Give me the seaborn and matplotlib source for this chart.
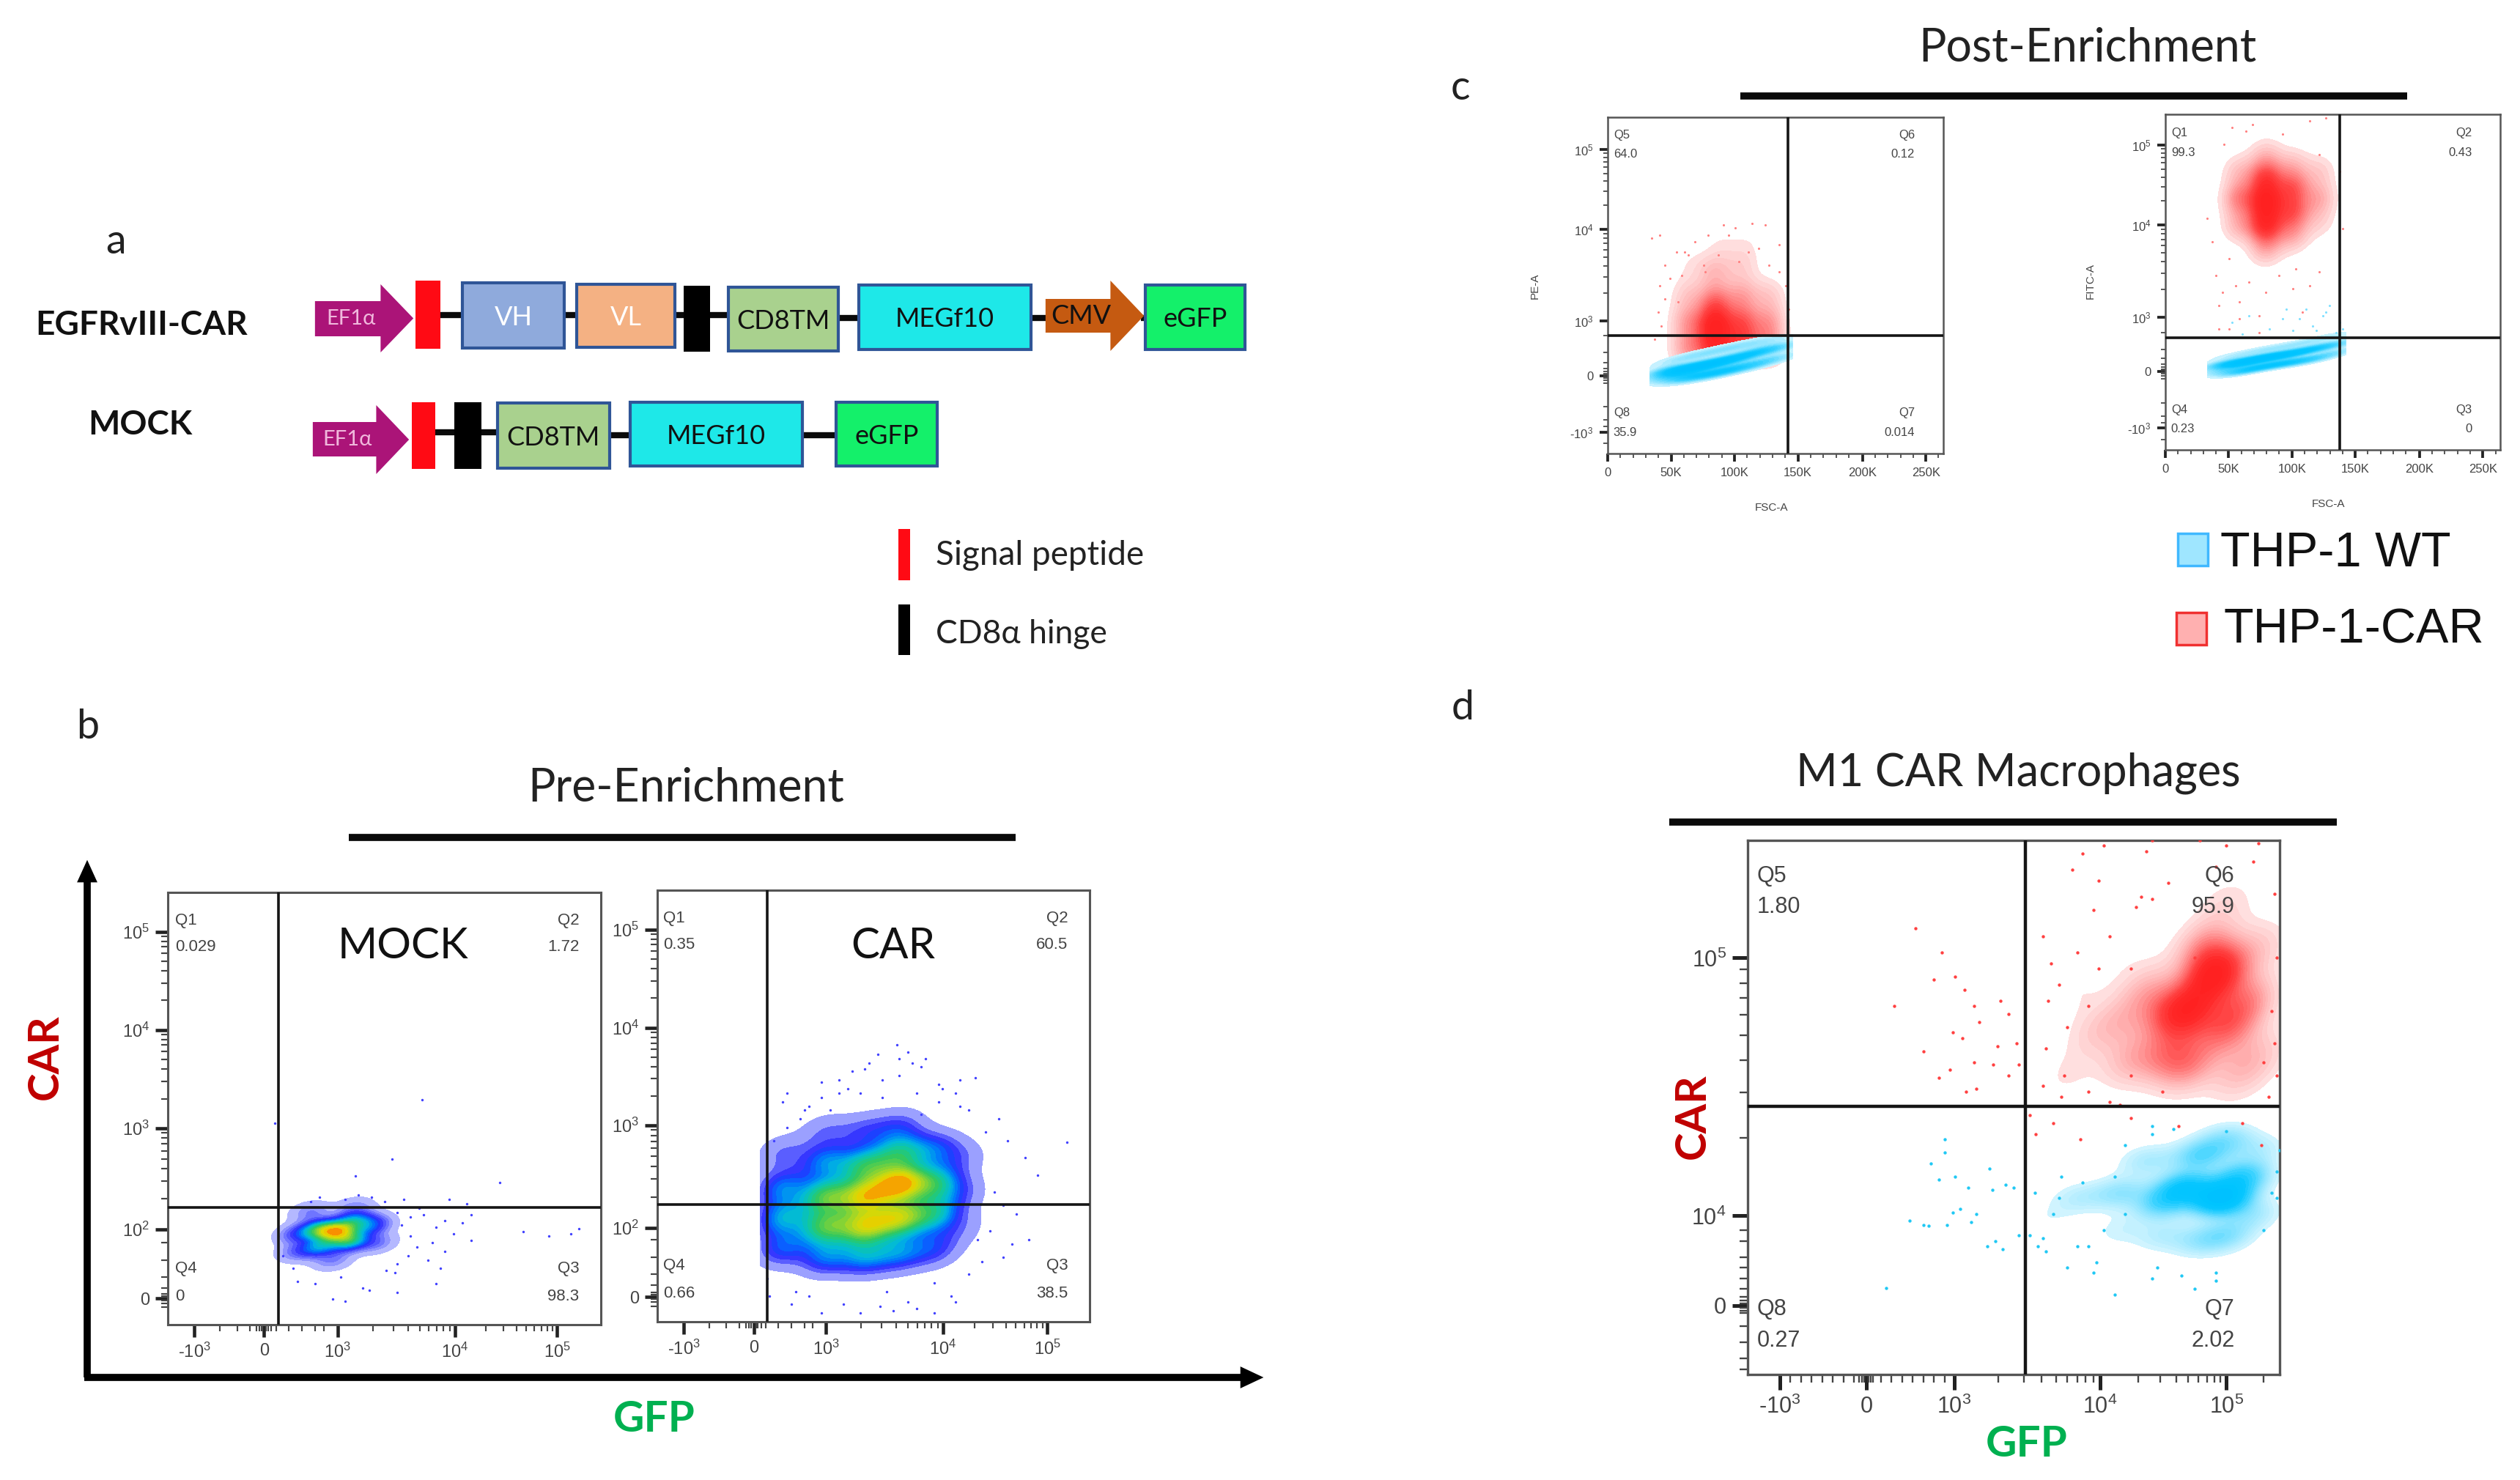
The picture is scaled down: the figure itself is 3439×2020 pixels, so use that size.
import numpy as np
import matplotlib
matplotlib.use("Agg")
import matplotlib.pyplot as plt
from matplotlib.colors import LinearSegmentedColormap
from matplotlib.patches import Rectangle, Polygon
import seaborn as sns

# ---------- data (flow channels, 0-1000 on each axis) ----------
b1_x = [300, 350, 390, 350, 420, 430, 470, 300, 480, 380, 330, 430]
b1_y = [210, 220, 215, 180, 195, 240, 230, 170, 190, 150, 260, 270]
b1_w = [1, 3, 5, 2, 3, 2, 1.5, .7, .7, .6, .6, .5]
b1_sx = [587, 247, 517, 433, 767, 540, 560, 575, 590, 610, 620, 640, 660, 680, 700, 820, 880, 930, 950, 545, 600, 630, 690, 555, 525, 300, 340, 380, 410, 450, 400, 465, 530, 620, 650, 290, 265, 700, 640, 580, 530, 500, 470, 440, 410, 350, 330, 560, 530, 505]
b1_sy = [521, 466, 383, 344, 329, 230, 205, 180, 255, 190, 225, 170, 210, 235, 195, 215, 205, 210, 222, 290, 150, 130, 280, 160, 120, 100, 95, 60, 55, 85, 110, 80, 75, 95, 290, 130, 160, 255, 240, 270, 260, 285, 295, 300, 290, 295, 285, 250, 140, 125]

b2_x = [290, 290, 290, 290, 390, 390, 390, 390, 390, 480, 480, 480, 480, 480, 560, 560, 560, 560, 560, 640, 640, 640, 640, 700, 700, 700]
b2_y = [170, 240, 310, 390, 150, 220, 290, 370, 440, 150, 220, 290, 360, 440, 160, 240, 320, 390, 450, 170, 250, 320, 400, 220, 300, 380]
b2_w = [2.2, 3, 2.6, 1.2, 2.4, 4.5, 4.6, 2.6, 1.1, 2.6, 5.5, 5.8, 3.8, 1.4, 2.4, 5.4, 7, 3.4, 1.6, 1.8, 3.2, 3.6, 2, .8, 1.1, 1]
b2_sx = [555, 580, 490, 620, 480, 520, 700, 735, 660, 610, 380, 420, 350, 300, 450, 520, 560, 600, 650, 690, 720, 760, 790, 810, 850, 880, 948, 780, 800, 830, 770, 740, 820, 860, 330, 270, 290, 400, 440, 510, 590, 650, 700, 610, 560, 470, 420, 380, 340, 300, 260, 255, 310, 545, 640, 680, 720, 750, 800, 350, 430, 515, 580, 470, 530, 600, 380, 320, 690, 640]
b2_sy = [641, 625, 600, 610, 585, 560, 560, 565, 540, 590, 555, 530, 500, 530, 580, 520, 570, 530, 510, 530, 490, 440, 470, 420, 380, 340, 416, 300, 270, 250, 210, 190, 180, 190, 470, 420, 510, 490, 540, 620, 600, 550, 500, 480, 610, 530, 560, 520, 490, 450, 60, 100, 40, 25, 90, 60, 110, 140, 150, 60, 40, 35, 45, 20, 70, 30, 20, 70, 45, 20]

c1_red_x = [240, 240, 240, 320, 320, 320, 320, 400, 400, 400, 400, 480, 480, 480, 250, 340, 420]
c1_red_y = [310, 390, 470, 310, 380, 450, 540, 320, 390, 470, 560, 320, 390, 470, 560, 620, 630]
c1_red_w = [2.4, 2.2, 1.2, 5, 6, 3.2, 1.6, 4, 3.4, 2, 1, 2.4, 2.2, 1.2, .5, .5, .4]
c1_blue_x = [170, 230, 300, 370, 440, 510, 170, 230, 300, 370, 440, 510, 170, 230, 300, 370, 440, 510]
c1_blue_y = [225, 225, 235, 250, 265, 285, 245, 250, 265, 280, 300, 315, 270, 285, 300, 315, 330, 340]
c1_blue_w = [2.4, 4, 4, 4, 3, 2.4, 3.5, 6, 6, 5, 4, 3, 1, 1.6, 1.8, 1.8, 1.6, 1.4]
c1_sx = [130, 155, 170, 205, 240, 260, 300, 345, 380, 430, 470, 155, 185, 220, 285, 330, 420, 510, 530, 540, 150, 170, 480, 390, 290, 210, 160, 140, 230, 510, 450, 360]
c1_sy = [640, 650, 560, 600, 590, 630, 650, 680, 670, 685, 680, 500, 520, 530, 560, 590, 600, 620, 500, 430, 420, 460, 560, 570, 540, 450, 380, 340, 600, 540, 610, 650]

c2_red_x = [220, 220, 220, 300, 300, 300, 300, 300, 380, 380, 380, 380, 460, 460, 460]
c2_red_y = [670, 750, 830, 600, 670, 740, 810, 880, 640, 710, 780, 850, 680, 750, 830]
c2_red_w = [2.2, 3.6, 1.8, 2.4, 6.5, 7.5, 5.5, 1.8, 2.4, 4.5, 4.4, 1.8, 1.2, 2.4, 1.5]
c2_blue_x = [170, 230, 300, 370, 440, 510, 170, 230, 300, 370, 440, 510, 170, 230, 300, 370, 440, 510]
c2_blue_y = [235, 235, 250, 260, 270, 290, 255, 260, 275, 285, 300, 315, 275, 285, 300, 310, 325, 340]
c2_blue_w = [2.4, 4, 4, 4, 3, 2.4, 3.5, 6, 6, 5, 4, 3, .8, 1.2, 1.4, 1.4, 1.4, 1.4]
c2_rx = [170, 210, 160, 250, 300, 380, 340, 430, 460, 220, 190, 280, 410, 150, 140, 240, 175, 200, 260, 350, 430, 480, 220, 280, 390, 520, 530, 125, 190, 160, 460]
c2_ry = [470, 490, 430, 500, 470, 480, 520, 490, 530, 390, 360, 400, 410, 520, 620, 950, 910, 960, 970, 940, 980, 990, 440, 350, 540, 830, 660, 690, 570, 360, 880]
c2_bx = [200, 250, 310, 360, 400, 420, 440, 470, 480, 490, 510, 520, 530, 350, 230, 450, 380]
c2_by = [380, 400, 360, 420, 390, 420, 370, 400, 410, 430, 350, 380, 360, 390, 345, 355, 355]

d_red_x = [880, 830, 900, 790, 720, 830, 940, 750, 650, 600, 900, 960, 700, 920, 790, 860, 960, 700, 620]
d_red_y = [750, 680, 650, 600, 590, 580, 700, 720, 640, 560, 880, 800, 800, 560, 680, 800, 600, 660, 720]
d_red_w = [8, 6, 4, 3, 2, 3, 3, 2, 1, .7, 1, 1.5, .5, 1.5, 3, 3, 1.5, 1.5, .6]
d_blue_x = [890, 820, 930, 780, 700, 620, 850, 900, 950, 850, 750, 560, 780, 900, 960, 700]
d_blue_y = [330, 350, 370, 320, 340, 330, 410, 440, 300, 250, 400, 290, 260, 260, 420, 270]
d_blue_w = [8, 5, 4, 3, 2, 1.2, 3, 2, 1.5, 1.5, 1.5, .5, 1.2, 2, 1.2, .8]
d_rx = [315, 365, 350, 390, 408, 425, 435, 385, 403, 425, 475, 505, 490, 510, 461, 275, 330, 360, 380, 410, 430, 490, 470, 555, 570, 585, 620, 565, 600, 640, 680, 720, 650, 760, 560, 595, 555, 590, 640, 680, 700, 720, 780, 740, 660, 610, 630, 670, 760, 850, 900, 960, 990, 995, 985, 950, 990, 995, 880, 790, 840, 750, 730, 660, 575, 625, 530, 542, 720, 810, 930, 965, 980, 970]
d_ry = [835, 790, 740, 745, 720, 690, 660, 640, 630, 585, 700, 620, 675, 580, 580, 690, 605, 555, 570, 530, 535, 560, 615, 820, 770, 730, 790, 700, 650, 690, 820, 760, 870, 890, 610, 560, 540, 520, 530, 510, 505, 560, 530, 895, 925, 945, 975, 990, 1000, 1000, 990, 995, 900, 780, 680, 960, 620, 560, 950, 920, 780, 980, 875, 760, 470, 440, 485, 450, 480, 465, 470, 430, 520, 585]
d_bx = [260, 370, 345, 360, 370, 390, 415, 400, 430, 330, 305, 340, 385, 455, 460, 485, 500, 375, 420, 465, 510, 450, 480, 560, 540, 590, 530, 555, 575, 620, 600, 650, 545, 585, 630, 690, 670, 710, 655, 770, 760, 815, 840, 880, 690, 880, 640, 970, 985, 995, 1000, 995, 760, 710, 760, 800, 900]
d_by = [162, 440, 395, 365, 415, 370, 350, 310, 300, 280, 288, 278, 303, 385, 345, 355, 350, 280, 285, 250, 260, 240, 235, 230, 340, 370, 260, 255, 300, 240, 200, 190, 240, 330, 360, 370, 270, 300, 210, 200, 180, 185, 160, 175, 150, 190, 240, 270, 340, 380, 420, 330, 450, 430, 465, 460, 455]

b1_q = [("Q1", "0.029"), ("Q2", "1.72"), ("Q4", "0"), ("Q3", "98.3")]
b2_q = [("Q1", "0.35"), ("Q2", "60.5"), ("Q4", "0.66"), ("Q3", "38.5")]
c1_q = [("Q5", "64.0"), ("Q6", "0.12"), ("Q8", "35.9"), ("Q7", "0.014")]
c2_q = [("Q1", "99.3"), ("Q2", "0.43"), ("Q4", "0.23"), ("Q3", "0")]
d_q = [("Q5", "1.80"), ("Q6", "95.9"), ("Q8", "0.27"), ("Q7", "2.02")]

# ---------- styling ----------
W, H = 3439, 2020
sns.set_theme(style="white")
plt.rcParams["font.family"] = ["Lato", "DejaVu Sans"]
plt.rcParams["mathtext.default"] = "regular"
FLOW_FONT = ["Liberation Sans", "DejaVu Sans"]
GREY = "#444444"

fig = plt.figure(figsize=(W / 100, H / 100), dpi=100, facecolor="white")
bg = fig.add_axes([0, 0, 1, 1], zorder=0)
bg.set_xlim(0, W)
bg.set_ylim(H, 0)
bg.axis("off")

jet = LinearSegmentedColormap.from_list("flow", ["#c8ccff", "#6a70ff", "#2a2aff", "#0070ff", "#00b8e0", "#10c8a0", "#30c860", "#70d040", "#b0d820", "#e0d800", "#f0c000", "#ff7000"])
reds = LinearSegmentedColormap.from_list("r", ["#ffe4e4", "#ffb4b4", "#ff7a7a", "#ff4444", "#ff2828", "#ff2020"])
blues = LinearSegmentedColormap.from_list("b", ["#d6f5ff", "#8ce4ff", "#3cd2ff", "#08c6ff", "#00c4ff", "#00c0ff"])


def box_axes(l, t, r, b):
    ax = fig.add_axes([l / W, 1 - b / H, (r - l) / W, (b - t) / H], zorder=2)
    ax.set_facecolor("none")
    return ax


def biex_minor(pos):
    """log minor ticks between neighbouring labelled decades."""
    out = []
    for a, c in zip(pos[:-1], pos[1:]):
        out += [a + (c - a) * np.log10(k) for k in range(2, 10)]
    return out


def style(ax, xt, xl, yt, yl, fs, lw, tick, xminor, yminor, pad=6):
    ax.set_xlim(0, 1000)
    ax.set_ylim(0, 1000)
    for s in ax.spines.values():
        s.set_visible(True)
        s.set_color("#555555")
        s.set_linewidth(lw)
    ax.set_xticks(xt)
    ax.set_xticklabels(xl, fontsize=fs, family=FLOW_FONT, color=GREY)
    ax.set_yticks(yt)
    ax.set_yticklabels(yl, fontsize=fs, family=FLOW_FONT, color=GREY)
    ax.set_xticks(xminor, minor=True)
    ax.set_yticks(yminor, minor=True)
    ax.tick_params(axis="both", which="major", length=tick, width=lw * 1.5, color="#222222", direction="out", bottom=True, left=True, pad=pad)
    ax.tick_params(axis="both", which="minor", length=tick * .55, width=lw * .7, color="#444444", direction="out", bottom=True, left=True)
    ax.set_xlabel("")
    ax.set_ylabel("")


def gates(ax, gx, gy, lw):
    ax.axvline(gx, color="#151515", lw=lw, zorder=6)
    ax.axhline(gy, color="#151515", lw=lw, zorder=6)


def qtext(ax, q, fs, left, right, y_hi, y_hi2, y_lo, y_lo2):
    kw = dict(fontsize=fs, family=FLOW_FONT, color=GREY, va="center", zorder=7)
    ax.text(left, y_hi, q[0][0], ha="left", **kw)
    ax.text(left, y_hi2, q[0][1], ha="left", **kw)
    ax.text(right, y_hi, q[1][0], ha="right", **kw)
    ax.text(right, y_hi2, q[1][1], ha="right", **kw)
    ax.text(left, y_lo, q[2][0], ha="left", **kw)
    ax.text(left, y_lo2, q[2][1], ha="left", **kw)
    ax.text(right, y_lo, q[3][0], ha="right", **kw)
    ax.text(right, y_lo2, q[3][1], ha="right", **kw)


def cloud(ax, x, y, w, cmap, bw, thresh=.02, levels=22, clip=((0, 1000), (0, 1000))):
    sns.kdeplot(x=x, y=y, weights=w, fill=True, cmap=cmap, bw_adjust=bw, thresh=thresh, levels=levels, gridsize=260, cut=4, clip=clip, ax=ax, zorder=2)


def dots(ax, x, y, color, s=9):
    sns.scatterplot(x=x, y=y, color=color, s=s, linewidth=0, ax=ax, zorder=3)


dec_lab = ["10$^{5}$", "10$^{4}$", "10$^{3}$", "10$^{2}$", "0"]

# ---------- panel b ----------
ax = box_axes(229, 1218, 820, 1808)
cloud(ax, b1_x, b1_y, b1_w, jet, .8, thresh=.015)
dots(ax, b1_sx, b1_sy, "#4040ff", 6)
xt = [61, 222, 392, 663, 899]
yt = [909, 682, 454, 221, 61]
style(ax, xt, ["-10$^{3}$", "0", "10$^{3}$", "10$^{4}$", "10$^{5}$"], yt, dec_lab, 17, 2.2, 12,
      biex_minor([392, 663, 899]) + [120, 160, 190, 205, 212, 217, 227, 232, 239, 250, 280, 310, 340, 360],
      biex_minor([221, 454, 682, 909]) + [40, 50, 56, 66, 72, 85, 110, 150, 190])
gates(ax, 256, 271, 2.6)
qtext(ax, b1_q, 16, 17, 950, 935, 873, 130, 65)
bg.text(550, 1291, "MOCK", fontsize=42, ha="center", va="center", color="#111111")

ax = box_axes(897, 1215, 1487, 1804)
cloud(ax, b2_x, b2_y, b2_w, jet, .6, thresh=.02, clip=((238, 1000), (0, 1000)))
dots(ax, b2_sx, b2_sy, "#4040ff", 6)
xt = [61, 223, 390, 661, 902]
yt = [909, 681, 455, 218, 57]
style(ax, xt, ["-10$^{3}$", "0", "10$^{3}$", "10$^{4}$", "10$^{5}$"], yt, dec_lab, 17, 2.2, 12,
      biex_minor([390, 661, 902]) + [120, 160, 190, 205, 212, 217, 228, 233, 240, 250, 280, 310, 340, 360],
      biex_minor([218, 455, 681, 909]) + [36, 46, 52, 62, 68, 85, 110, 150, 190])
gates(ax, 255, 271, 2.6)
qtext(ax, b2_q, 16, 14, 950, 935, 873, 130, 65)
bg.text(1219, 1291, "CAR", fontsize=42, ha="center", va="center", color="#111111")

# ---------- panel c ----------
c_x = [0, 189, 378, 567, 759, 948]
c_lab = ["0", "50K", "100K", "150K", "200K", "250K"]
c_minor = [v + k * (189 / 5) for v in c_x for k in range(1, 5) if v + k * (189 / 5) < 1000]
c_dec = ["10$^{5}$", "10$^{4}$", "10$^{3}$", "0", "-10$^{3}$"]

ax = box_axes(2194, 160, 2652, 619)
cloud(ax, c1_red_x, c1_red_y, c1_red_w, reds, .7, thresh=.05, clip=((140, 548), (0, 1000)))
dots(ax, c1_sx, c1_sy, "#ff8080", 5)
cloud(ax, c1_blue_x, c1_blue_y, c1_blue_w, blues, .72, thresh=.03, clip=((125, 552), (0, 1000)))
yt = [904, 667, 394, 231, 63]
style(ax, c_x, c_lab, yt, c_dec, 12, 1.8, 8, c_minor,
      biex_minor([394, 667, 904]) + [210, 218, 225, 228, 234, 238, 244, 252, 270, 300, 350, 140, 100, 80, 30])
gates(ax, 538, 350, 2.6)
qtext(ax, c1_q, 12, 17, 915, 947, 889, 122, 63)
bg.text(2095, 390, "PE-A", fontsize=11, rotation=90, ha="center", va="center", family=FLOW_FONT, color=GREY)
bg.text(2418, 693, "FSC-A", fontsize=11, ha="center", va="center", family=FLOW_FONT, color=GREY)

ax = box_axes(2955, 156, 3412, 614)
cloud(ax, c2_red_x, c2_red_y, c2_red_w, reds, .75, thresh=.05, clip=((130, 545), (0, 1000)))
dots(ax, c2_rx, c2_ry, "#ff8080", 5)
dots(ax, c2_bx, c2_by, "#80e0ff", 5)
cloud(ax, c2_blue_x, c2_blue_y, c2_blue_w, blues, .72, thresh=.03, clip=((125, 540), (0, 1000)))
yt = [908, 670, 395, 234, 66]
style(ax, c_x, c_lab, yt, c_dec, 12, 1.8, 8, c_minor,
      biex_minor([395, 670, 908]) + [212, 220, 228, 231, 237, 241, 247, 255, 272, 300, 350, 140, 100, 80, 30])
gates(ax, 521, 333, 2.6)
qtext(ax, c2_q, 12, 17, 915, 945, 885, 120, 62)
bg.text(2853, 384, "FITC-A", fontsize=11, rotation=90, ha="center", va="center", family=FLOW_FONT, color=GREY)
bg.text(3178, 688, "FSC-A", fontsize=11, ha="center", va="center", family=FLOW_FONT, color=GREY)

# ---------- panel d ----------
ax = box_axes(2385, 1147, 3111, 1876)
cloud(ax, d_red_x, d_red_y, d_red_w, reds, .68, thresh=.06)
dots(ax, d_rx, d_ry, "#ff4040", 10)
cloud(ax, d_blue_x, d_blue_y, d_blue_w, blues, .6, thresh=.06)
dots(ax, d_bx, d_by, "#20c8f4", 10)
xt = [60, 223, 388, 662, 900]
yt = [780, 297, 129]
style(ax, xt, ["-10$^{3}$", "0", "10$^{3}$", "10$^{4}$", "10$^{5}$"], yt, ["10$^{5}$", "10$^{4}$", "0"], 22, 2.4, 15,
      biex_minor([388, 662, 900]) + [80, 100, 120, 140, 160, 180, 200, 210, 215, 219, 227, 231, 236, 250, 270, 290, 310, 330, 350, 370, 970],
      biex_minor([297, 780]) + [115, 120, 125, 133, 138, 145, 160, 180, 200, 220, 250, 270, 60, 30, 10, 90])
gates(ax, 522, 502, 3.2)
qtext(ax, d_q, 22, 17, 915, 933, 875, 122, 63)

# ---------- schematic a ----------
CAR_LAB, MOCK_LAB = "EGFRvIII-CAR", "MOCK"
EDGE = "#2f5597"
SX = .995
car_blocks = [("VH", 634, 774, 386, 475, "#8faadc", "white"), ("VL", 791, 926, 388, 474, "#f4b183", "white"),
              ("CD8TM", 999, 1150, 392, 479, "#a9d18e", "#111111"), ("MEGf10", 1178, 1414, 389, 477, "#1ee8e8", "#111111"),
              ("eGFP", 1571, 1708, 389, 477, "#14f06a", "#111111")]
mock_blocks = [("CD8TM", 682, 836, 550, 639, "#a9d18e", "#111111"), ("MEGf10", 864, 1100, 549, 636, "#1ee8e8", "#111111"),
               ("eGFP", 1147, 1285, 549, 636, "#14f06a", "#111111")]
for (a, c, y) in [(600, 640, 430), (770, 795, 430), (922, 1003, 430), (1148, 1180, 434), (1412, 1436, 434), (1565, 1573, 434),
                  (595, 685, 590), (834, 866, 594), (1098, 1149, 594)]:
    bg.plot([a * SX, c * SX], [y, y], color="#0a0a0a", lw=6, solid_capstyle="butt", zorder=1)
for name, l, r, t, b, fc, tc in car_blocks + mock_blocks:
    bg.add_patch(Rectangle((l * SX, t), (r - l) * SX, b - t, facecolor=fc, edgecolor=EDGE, lw=3, zorder=2))
    bg.text((l + r) / 2 * SX, (t + b) / 2 + 3, name, fontsize=26, ha="center", va="center", color=tc, zorder=3)


def arrow(x0, x1, xh, b0, b1, h0, h1, color, label, tc, fs):
    x0, x1, xh = x0 * SX, x1 * SX, xh * SX
    mid = (h0 + h1) / 2
    pts = [(x0, b0), (xh, b0), (xh, h0), (x1, mid), (xh, h1), (xh, b1), (x0, b1)]
    bg.add_patch(Polygon(pts, closed=True, facecolor=color, edgecolor="none", zorder=2))
    bg.text((x0 + xh) / 2 + 4, (b0 + b1) / 2, label, fontsize=fs, ha="center", va="center", color=tc, zorder=3)


arrow(432, 567, 522, 411, 459, 388, 481, "#ab1478", "EF1α", "#f0b8dc", 21)
arrow(429, 561, 516, 576, 623, 553, 647, "#ab1478", "EF1α", "#f0b8dc", 21)
arrow(1434, 1569, 1523, 408, 454, 383, 479, "#c55a11", "CMV", "#111111", 26)
for l, r, t, b, c in [(570, 604, 383, 476, "#ff0a14"), (938, 974, 390, 480, "black"), (565, 597, 549, 640, "#ff0a14"), (623, 660, 549, 640, "black")]:
    bg.add_patch(Rectangle((l * SX, t), (r - l) * SX, b - t, facecolor=c, edgecolor="none", zorder=2))
for t, b, c in [(722, 792, "#ff0a14"), (825, 894, "black")]:
    bg.add_patch(Rectangle((1226, t), 16, b - t, facecolor=c, edgecolor="none", zorder=2))
bg.text(1277, 758, "Signal peptide", fontsize=33, ha="left", va="center", color="#222222")
bg.text(1277, 865, "CD8α hinge", fontsize=32, ha="left", va="center", color="#222222")
bg.text(193, 444, CAR_LAB, fontsize=33, weight="bold", ha="center", va="center", color="#111111")
bg.text(191, 580, MOCK_LAB, fontsize=33, weight="bold", ha="center", va="center", color="#111111")

# ---------- titles, letters, arrows ----------
for x, y, s in [(158, 331, "a"), (120, 993, "b"), (1993, 120, "c"), (1996, 967, "d")]:
    bg.text(x, y, s, fontsize=40, ha="center", va="center", color="#222222")
for x, y, s in [(2849, 65, "Post-Enrichment"), (936, 1076, "Pre-Enrichment"), (2754, 1055, "M1 CAR Macrophages")]:
    bg.text(x, y, s, fontsize=45 if s != "M1 CAR Macrophages" else 44, ha="center", va="center", color="#222222")
for a, c, y in [(2375, 3285, 131), (476, 1386, 1143), (2278, 3189, 1122)]:
    bg.plot([a, c], [y, y], color="#0a0a0a", lw=7, solid_capstyle="butt")

bg.plot([119, 119], [1880, 1195], color="black", lw=7, solid_capstyle="butt")
bg.plot([115, 1700], [1880, 1880], color="black", lw=7, solid_capstyle="butt")
bg.add_patch(Polygon([(104, 1205), (134, 1205), (119, 1172)], closed=True, facecolor="black"))
bg.add_patch(Polygon([(1692, 1864), (1692, 1896), (1726, 1880)], closed=True, facecolor="black"))

RED_LAB, GREEN_LAB = "#c00000", "#00b050"
bg.text(62, 1443, "CAR", fontsize=42, weight="bold", rotation=90, ha="center", va="center", color=RED_LAB)
bg.text(893, 1938, "GFP", fontsize=42, weight="bold", ha="center", va="center", color=GREEN_LAB)
bg.text(2310, 1524, "CAR", fontsize=42, weight="bold", rotation=90, ha="center", va="center", color=RED_LAB)
bg.text(2766, 1971, "GFP", fontsize=42, weight="bold", ha="center", va="center", color=GREEN_LAB)

# ---------- legend c ----------
bg.add_patch(Rectangle((2972, 728), 41, 44, facecolor="#9fe6ff", edgecolor="#40b8ff", lw=2.5))
bg.add_patch(Rectangle((2970, 836), 41, 44, facecolor="#ffb0b0", edgecolor="#f03030", lw=2.5))
bg.text(3030, 756, "THP-1 WT", fontsize=48, ha="left", va="center", family=FLOW_FONT, color="#111111")
bg.text(3034, 860, "THP-1-CAR", fontsize=48, ha="left", va="center", family=FLOW_FONT, color="#111111")

fig.savefig("out.png", dpi=100, facecolor="white")
